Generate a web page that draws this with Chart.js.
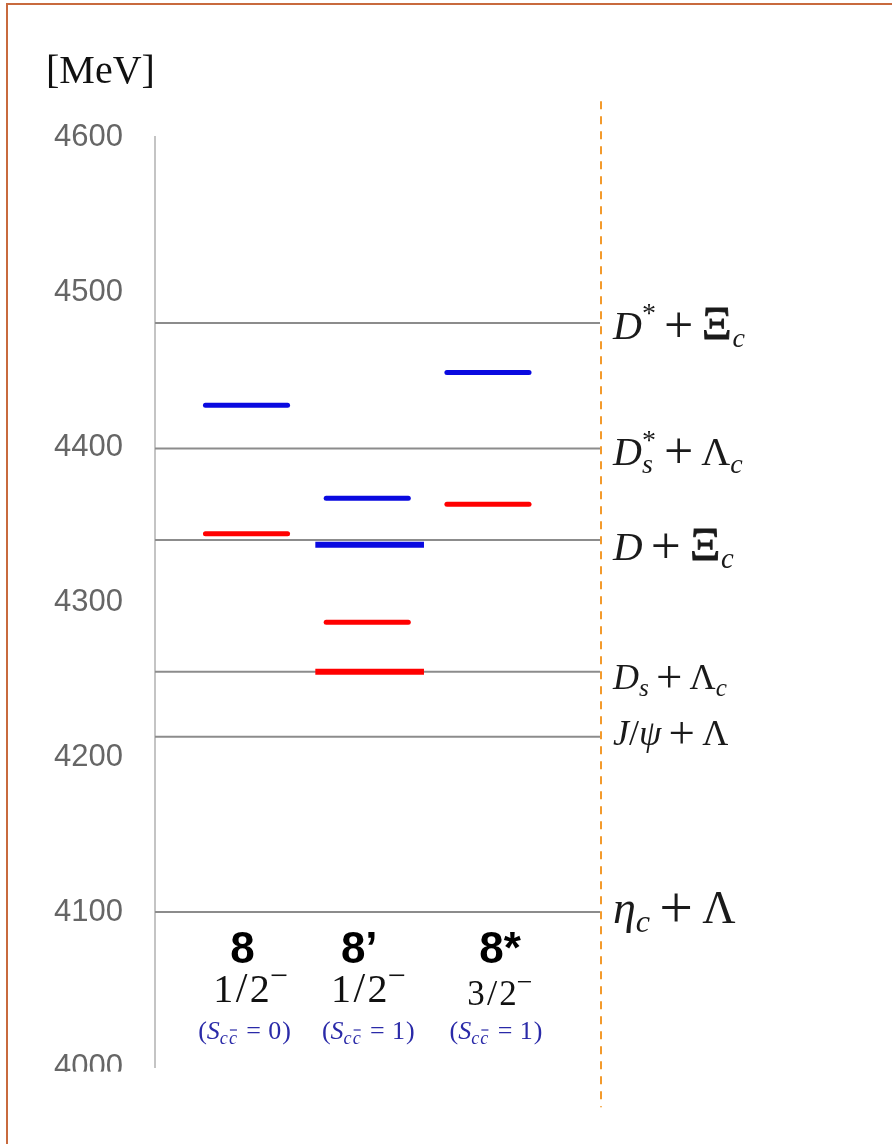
<!DOCTYPE html>
<html>
<head>
<meta charset="utf-8">
<script src="https://cdn.jsdelivr.net/npm/chart.js@4.4.1/dist/chart.umd.min.js"></script>
<style>
  html, body { margin: 0; padding: 0; background: #fff; }
  #wrap { position: relative; width: 892px; height: 1144px; overflow: hidden; }
  #frame { position: absolute; left: 6px; top: 3px; width: 920px; height: 1180px;
           border-left: 2px solid #c86a3e; border-top: 2px solid #c86a3e; }
  #myChart { position: absolute; left: 0; top: 0; }
</style>
</head>
<body>
<div id="wrap">
  <div id="frame"></div>
  <canvas id="myChart" width="892" height="1144"></canvas>
</div>
<script>
// columns (multiplets) and their quantum numbers
const columns = ['8', '8\u2019', '8*'];
const spins = ['1/2', '1/2', '3/2'];
const spinCC = ['0', '1', '1'];

// energy levels per column [MeV] (null = none)
const blueLevels = [4427, 4367, 4448];
const blueThick = [null, 4337, null];
const redLevels = [4344, 4287, 4363];
const redThick = [null, 4255, null];

// meson-baryon thresholds [MeV]
const thresholdMass = [4480, 4399, 4340, 4255, 4213, 4100];
// label pieces: [text, kind]  i = italic, r = roman, x = Xi, o = operator,
// b = subscript, p = superscript, bp = sub+sup
const thresholdLabel = [
    [['D', 'i'], ['*', 'p'], ['+', 'o'], ['\u039E', 'x'], ['c', 'b']],
    [['D', 'i'], ['s|*', 'bp'], ['+', 'o'], ['\u039B', 'r'], ['c', 'b']],
    [['D', 'i'], ['+', 'o'], ['\u039E', 'x'], ['c', 'b']],
    [['D', 'i'], ['s', 'b'], ['+', 'o'], ['\u039B', 'r'], ['c', 'b']],
    [['J', 'i'], ['/', 'r'], ['\u03C8', 'i'], ['+', 'o'], ['\u039B', 'r']],
    [['\u03B7', 'i'], ['c', 'b'], ['+', 'o'], ['\u039B', 'r']]
];

const massTicks = [4000, 4100, 4200, 4300, 4400, 4500, 4600];

// drawing styles (not data)
const labelSize = [40, 40, 41, 36, 36, 46];
const labelDy = [16, 16, 20, 17, 8, 11];
const BLUE = '#0a0ae0';
const RED = '#ff0000';
const HALF = 0.34, HALF_THICK = 0.45;
const SERIF = '"Liberation Serif", "DejaVu Serif", serif';

function seg(col, y, half) {
    return [{ x: col + 1 - half, y: y }, { x: col + 1 + half, y: y }];
}

const datasets = [];
function addLevels(arr, color, thick) {
    arr.forEach((v, i) => {
        if (v === null) return;
        datasets.push({
            data: seg(i + (thick ? 0.02 : 0), v, thick ? HALF_THICK : HALF),
            borderColor: color,
            borderWidth: thick ? 6 : 5,
            borderCapStyle: thick ? 'butt' : 'round',
            pointRadius: 0,
            order: 0
        });
    });
}
addLevels(blueLevels, BLUE, false);
addLevels(blueThick, BLUE, true);
addLevels(redLevels, RED, false);
addLevels(redThick, RED, true);

const X_MIN = 0.242, X_MAX = 3.928;
thresholdMass.forEach(m => {
    datasets.push({
        data: [{ x: X_MIN, y: m }, { x: X_MAX, y: m }],
        borderColor: '#8c8c8c',
        borderWidth: 2,
        pointRadius: 0,
        order: 1
    });
});

// draw a little "math" string made of pieces
function mathText(ctx, x, y, parts, size, color, align) {
    const items = parts.map(([t, k]) => {
        const it = { t: t, k: k, dy: 0, pad: 0 };
        let s = size, style = '';
        if (k === 'i') style = 'italic ';
        if (k === 'b') { s = size * 0.7; style = 'italic '; it.dy = size * 0.2; }
        if (k === 'p') { s = size * 0.7; it.dy = -size * 0.42; }
        if (k === 'm') { s = size * 0.8; it.dy = -size * 0.4; }
        if (k === 'bp') { s = size * 0.7; }
        if (k === 'x') { s = size * 1.15; it.pad = size * 0.02; }
        if (k === 'o') { s = size * 1.3; it.dy = size * 0.08; it.pad = size * 0.2; }
        if (k === 's') { s = size * 1.05; it.pad = size * 0.06; }
        it.font = style + s + 'px ' + SERIF;
        it.size = s;
        ctx.font = it.font;
        if (k === 'bp') {
            const [a, b] = t.split('|');
            ctx.font = 'italic ' + s + 'px ' + SERIF;
            it.w = Math.max(ctx.measureText(a).width, ctx.measureText(b).width);
        } else {
            it.w = ctx.measureText(t).width;
        }
        return it;
    });
    const total = items.reduce((s, it) => s + it.w + 2 * it.pad, 0);
    let cx = align === 'center' ? x - total / 2 : x;
    ctx.save();
    ctx.fillStyle = color;
    ctx.strokeStyle = color;
    ctx.textAlign = 'left';
    ctx.textBaseline = 'alphabetic';
    items.forEach(it => {
        cx += it.pad;
        ctx.font = it.font;
        if (it.k === 'bp') {
            const [a, b] = it.t.split('|');
            ctx.font = 'italic ' + it.size + 'px ' + SERIF;
            ctx.fillText(a, cx, y + size * 0.22);
            ctx.font = it.size + 'px ' + SERIF;
            ctx.fillText(b, cx, y - size * 0.38);
        } else {
            ctx.fillText(it.t, cx, y + it.dy);
            if (it.k === 'x') {
                // Computer Modern Xi has heavier bars than the Times one
                ctx.lineWidth = 0.9;
                ctx.strokeText(it.t, cx, y + it.dy);
            }
        }
        cx += it.w + it.pad;
    });
    ctx.restore();
    return total;
}

const annotations = {
    id: 'annotations',
    afterDraw(chart) {
        const { ctx, chartArea, scales } = chart;
        const xs = scales.x, ys = scales.y;

        // orange dashed separator
        ctx.save();
        ctx.strokeStyle = '#f39a2c';
        ctx.lineWidth = 2;
        ctx.setLineDash([8, 7]);
        ctx.beginPath();
        ctx.moveTo(chartArea.right + 1, ys.getPixelForValue(4623));
        ctx.lineTo(chartArea.right + 1, ys.getPixelForValue(3974));
        ctx.stroke();
        ctx.restore();

        // unit
        mathText(ctx, 46, 83, [['[MeV]', 'r']], 40, '#111', 'left');

        // threshold labels
        thresholdMass.forEach((m, i) => {
            const y = ys.getPixelForValue(m) + labelDy[i];
            mathText(ctx, chartArea.right + 13, y, thresholdLabel[i], labelSize[i], '#1a1a1a', 'left');
        });

        // column labels
        const nameDx = [-4, -8, 12], spinDx = [4, 1, 12], ccDx = [-2, 1, 8];
        columns.forEach((c, i) => {
            const cx = xs.getPixelForValue(i + 1);
            ctx.save();
            ctx.fillStyle = '#000';
            ctx.font = 'bold 44px "Liberation Sans", Arial, sans-serif';
            ctx.textAlign = 'center';
            ctx.fillText(c, cx + nameDx[i], 963);
            ctx.restore();

            const [a, b] = spins[i].split('/');
            const sz = i === 2 ? 35 : 40;
            mathText(ctx, cx + spinDx[i], i === 2 ? 1005 : 1002,
                [[a, 'r'], ['/', 's'], [b, 'r'], ['\u2212', 'm']], sz, '#111', 'center');

            // (S_{c cbar} = n)
            const size = 26;
            ctx.save();
            ctx.fillStyle = '#2a2aa8';
            ctx.strokeStyle = '#2a2aa8';
            ctx.font = size + 'px ' + SERIF;
            const wP = ctx.measureText('(').width;
            ctx.font = 'italic ' + size + 'px ' + SERIF;
            const wS = ctx.measureText('S').width;
            ctx.font = 'italic ' + (size * 0.7) + 'px ' + SERIF;
            const wc = ctx.measureText('c').width;
            ctx.font = size + 'px ' + SERIF;
            const wEq = ctx.measureText('=').width;
            const wN = ctx.measureText(spinCC[i]).width;
            const wQ = ctx.measureText(')').width;
            const gap = size * 0.28;
            const total = wP + wS + 2 * wc + 3 + gap + wEq + gap + wN + 1 + wQ;
            let x = cx + ccDx[i] - total / 2;
            const y = 1039;
            ctx.font = size + 'px ' + SERIF;
            ctx.fillText('(', x, y); x += wP;
            ctx.font = 'italic ' + size + 'px ' + SERIF;
            ctx.fillText('S', x, y); x += wS;
            ctx.font = 'italic ' + (size * 0.7) + 'px ' + SERIF;
            ctx.fillText('c', x, y + 5); x += wc + 1;
            ctx.fillText('c', x, y + 5);
            ctx.lineWidth = 1.2;
            ctx.beginPath();
            ctx.moveTo(x + 1, y - 9); ctx.lineTo(x + wc, y - 9);
            ctx.stroke();
            x += wc + 2 + gap;
            ctx.font = size + 'px ' + SERIF;
            ctx.fillText('=', x, y); x += wEq + gap;
            ctx.fillText(spinCC[i], x, y); x += wN + 1;
            ctx.fillText(')', x, y);
            ctx.restore();
        });

        // the source picture is cut off just below the axis
        ctx.save();
        ctx.fillStyle = '#fff';
        ctx.fillRect(40, ys.getPixelForValue(3997), 100, 40);
        ctx.fillRect(546, 1015, 40, 40);
        ctx.restore();
    }
};

const ctx = document.getElementById('myChart');
const myChart = new Chart(ctx, {
    type: 'line',
    data: { datasets: datasets },
    options: {
        responsive: false,
        animation: false,
        devicePixelRatio: 1,
        layout: { padding: { left: 0, right: 292, top: 137, bottom: 77 } },
        plugins: { legend: { display: false }, tooltip: { enabled: false } },
        scales: {
            x: { type: 'linear', min: X_MIN, max: X_MAX, display: false },
            y: {
                min: 4000,
                max: 4600,
                afterFit: s => { s.width = 155; },
                afterBuildTicks: s => { s.ticks = massTicks.map(v => ({ value: v })); },
                grid: { display: false, drawTicks: false },
                border: { display: true, color: '#c4c4c4', width: 2 },
                ticks: {
                    color: '#666',
                    padding: 32,
                    callback: v => String(v),
                    font: { family: '"Liberation Sans", Arial, sans-serif', size: 31 }
                }
            }
        }
    },
    plugins: [annotations]
});
</script>
</body>
</html>
